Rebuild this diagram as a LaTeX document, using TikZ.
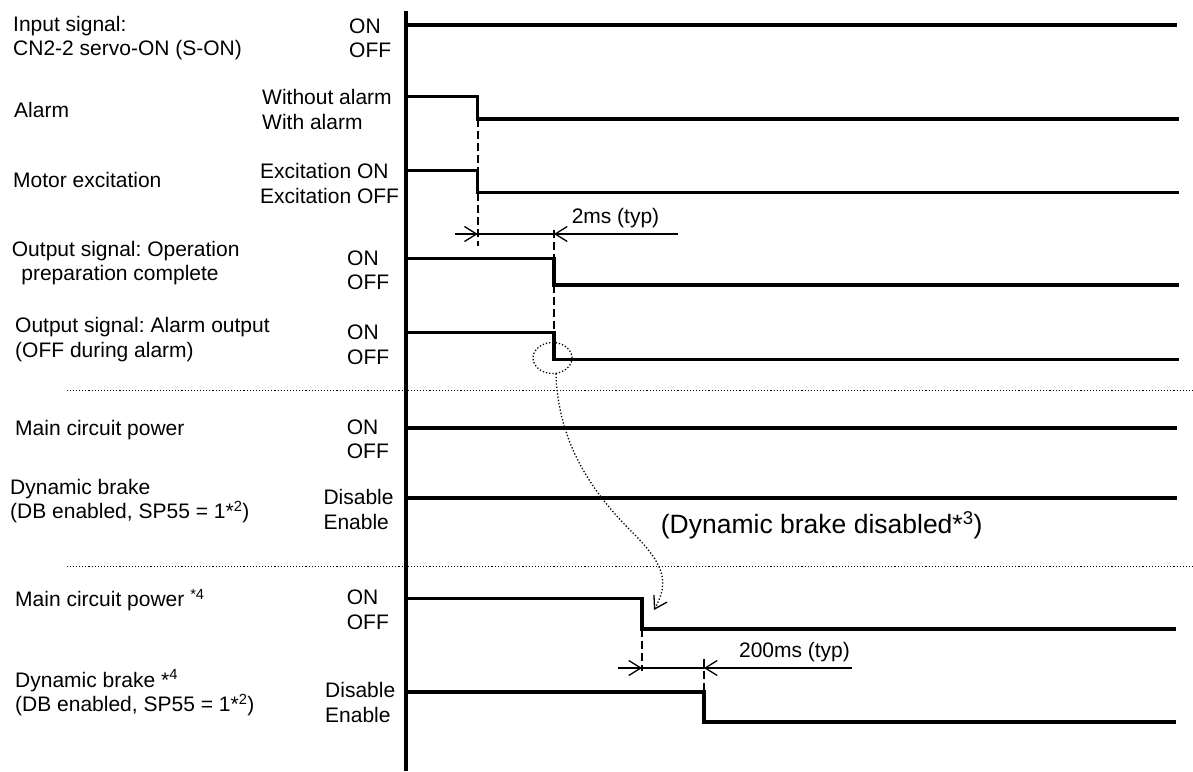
\documentclass[tikz,border=0pt]{standalone}
\usepackage{fontspec}
\setmainfont{Liberation Sans}
\frenchspacing
\usetikzlibrary{arrows.meta}
\tikzset{
  sig/.style={line width=3.2pt, line join=miter},
  axisline/.style={line width=4pt},
  guide/.style={line width=1.6pt, dash pattern=on 8pt off 4pt},
  sepline/.style={line width=1.1pt, dash pattern=on 1.1pt off 2pt},
  dimline/.style={line width=1.3pt},
  dimtip/.style={-{Straight Barb[length=12pt,width=15pt]}},
  curvetip/.style={-{Straight Barb[length=12pt,width=15pt]}},
  dotcurve/.style={line width=1.3pt, dash pattern=on 1.3pt off 2pt},
  lbl/.style={anchor=west, align=left, inner sep=0pt},
}
\begin{document}
\begin{tikzpicture}[x=1pt, y=-1pt, font=\fontsize{21}{24.7}\selectfont]
\useasboundingbox (0,0) rectangle (1193,771);

% axis
\coordinate (axtop) at (406,11);
\coordinate (axbot) at (406,771);
\draw[axisline] (axtop) -- (axbot);

% left labels
\node[lbl] (l1) at (13,38) {Input signal:\\CN2-2 servo-ON (S-ON)};
\node[lbl] (l2) at (14,110) {Alarm};
\node[lbl] (l3) at (13,180) {Motor excitation};
\node[lbl] (l4) at (11.7,263) {Output signal: Operation\\\hspace*{9.5pt}preparation complete};
\node[lbl] (l5) at (15,339.5) {Output signal: Alarm output\\(OFF during alarm)};
\node[lbl] (l6) at (15,430.3) {Main circuit power};
\node[lbl] (l7) at (10,501.2) {Dynamic brake\\(DB enabled, SP55 = 1*\textsuperscript{2})};
\node[lbl] (l8) at (15,600.3) {Main circuit power \textsuperscript{*4}};
\node[lbl] (l9) at (15,692.8) {Dynamic brake *\textsuperscript{4}\\(DB enabled, SP55 = 1*\textsuperscript{2})};

% state labels
\node[lbl] (s1) at (349,38.3) {ON\\OFF};
\node[lbl] (s2) at (262,109.5) {Without alarm\\With alarm};
\node[lbl] (s3) at (260,183.3) {Excitation ON\\Excitation OFF};
\node[lbl] (s4) at (347,270.3) {ON\\OFF};
\node[lbl] (s5) at (347,345) {ON\\OFF};
\node[lbl] (s6) at (346.7,439.2) {ON\\OFF};
\node[lbl] (s7) at (323.3,509.2) {Disable\\Enable};
\node[lbl] (s8) at (346.7,610) {ON\\OFF};
\node[lbl] (s9) at (325,702.5) {Disable\\Enable};

% signals
\draw[sig] (406,25) -- (1177,25);
\draw[sig] (406,96.7) -- (477.7,96.7) -- (477.7,119) -- (1179,119);
\draw[sig] (406,170.7) -- (477.7,170.7) -- (477.7,192.7) -- (1179,192.7);
\draw[sig] (406,258.3) -- (554,258.3) -- (554,285) -- (1179,285);
\draw[sig] (406,332.7) -- (554,332.7) -- (554,359.3) -- (1179,359.3);
\draw[sig] (406,428) -- (1177,428);
\draw[sig] (406,498) -- (1177,498);
\draw[sig] (406,598.5) -- (642,598.5) -- (642,629) -- (1176,629);
\draw[sig] (406,692) -- (704,692) -- (704,722) -- (1176,722);

% separators
\draw[sepline] (66.7,390.5) -- (1193,390.5);
\draw[sepline] (66.7,566.7) -- (1193,566.7);

% guide dashes
\draw[guide] (477.7,119) -- (477.7,170.7);
\draw[guide] (477.7,192.7) -- (477.7,246);
\draw[guide] (554,230) -- (554,258.3);
\draw[guide] (554,285) -- (554,332.7);
\draw[guide] (642,629) -- (642,671);
\draw[guide] (704,659) -- (704,692);

% 2ms dimension
\coordinate (d1a) at (455,234);
\coordinate (d1b) at (477.7,234);
\coordinate (d1c) at (554,234);
\coordinate (d1d) at (677.7,234);
\draw[dimline] (d1a) -- (d1d);
\draw[dimline, dimtip] (d1a) -- (d1b);
\draw[dimline, dimtip] (d1d) -- (d1c);
\node (t1) at (615.5,218) {2ms (typ)};

% 200ms dimension
\coordinate (d2a) at (618,668);
\coordinate (d2b) at (642,668);
\coordinate (d2c) at (704,668);
\coordinate (d2d) at (852,668);
\draw[dimline] (d2a) -- (d2d);
\draw[dimline, dimtip] (d2a) -- (d2b);
\draw[dimline, dimtip] (d2d) -- (d2c);
\node (t2) at (794.5,651.7) {200ms (typ)};

% dotted ellipse and curved arrow
\draw[dotcurve] (552.5,358) ellipse [x radius=19.5pt, y radius=15.5pt];
\coordinate (cs) at (556,373.5);
\coordinate (ce) at (654,610);
\draw[dotcurve] (cs) .. controls (558,450) and (600,500) .. (633,533)
   .. controls (668,568) and (668,585) .. (ce);
\draw[dimline, curvetip] (ce) ++(0.7,-1.25) -- (ce);

\node[font=\fontsize{26.5}{30}\selectfont] (t3) at (821.7,525) {(Dynamic brake disabled*\textsuperscript{3})};
\end{tikzpicture}
\end{document}
